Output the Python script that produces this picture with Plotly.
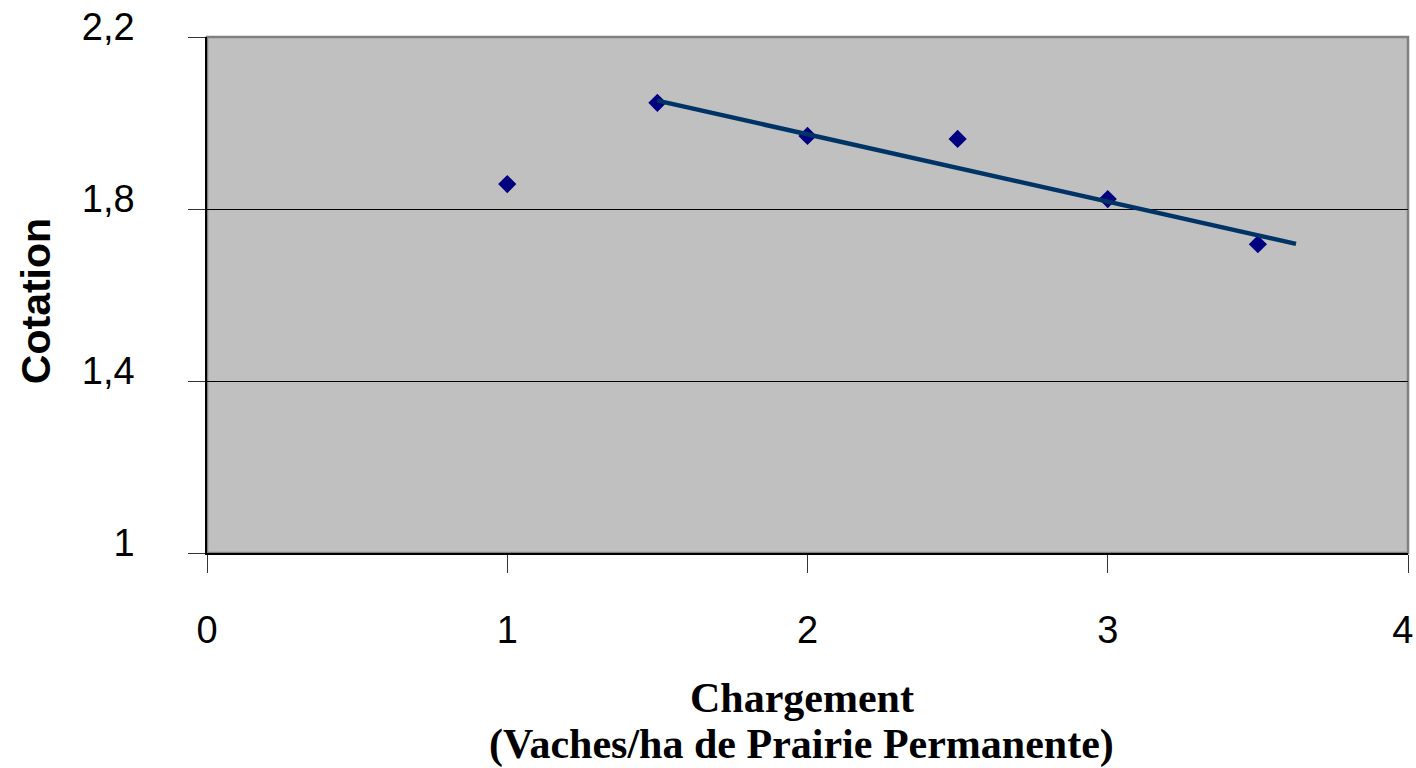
import plotly.graph_objects as go

# Data
chargement = [1.0, 1.5, 2.0, 2.5, 3.0, 3.5]
cotation = [1.858, 2.047, 1.970, 1.963, 1.823, 1.718]

# Linear trend line
trend_x = [1.5, 3.627]
trend_y = [2.052, 1.719]

x_ticks = [0, 1, 2, 3, 4]
x_tick_labels = ["0", "1", "2", "3", "4"]
y_ticks = [1.0, 1.4, 1.8, 2.2]
y_tick_labels = ["1", "1,4", "1,8", "2,2"]

# keep the last x label inside the page (as in the reference)
x_tick_text = x_tick_labels[:-1] + [x_tick_labels[-1] + "\u00a0"]

fig = go.Figure()
fig.add_trace(go.Scatter(
    x=chargement, y=cotation, mode="markers",
    marker=dict(symbol="diamond", size=14, color="#000080", line=dict(width=0)),
    showlegend=False, hoverinfo="x+y"))
fig.add_trace(go.Scatter(
    x=trend_x, y=trend_y, mode="lines",
    line=dict(color="#003366", width=4.5),
    showlegend=False, hoverinfo="skip"))

tick_font = dict(family="Liberation Sans, Arial, sans-serif", size=38, color="#000000")

fig.update_layout(
    width=1416, height=768,
    margin=dict(l=207, r=8, t=37, b=215, autoexpand=False),
    paper_bgcolor="#FFFFFF",
    plot_bgcolor="#C0C0C0",
    xaxis=dict(
        range=[0, 4], tickvals=x_ticks, ticktext=x_tick_text,
        showgrid=False, zeroline=False, automargin=False,
        showline=True, linecolor="#000000", linewidth=1.5,
        ticks="outside", ticklen=18, tickwidth=1, tickcolor="#333333",
        tickfont=tick_font, ticklabelstandoff=25, ticklabeloverflow="allow",
    ),
    yaxis=dict(
        range=[1.0, 2.2], tickvals=y_ticks, ticktext=y_tick_labels,
        showgrid=True, gridcolor="#000000", gridwidth=1,
        zeroline=False, automargin=False,
        showline=True, linecolor="#000000", linewidth=1.5,
        ticks="outside", ticklen=17, tickwidth=1, tickcolor="#333333",
        tickfont=tick_font, ticklabelstandoff=46, ticklabelshift=-10,
        ticklabeloverflow="allow",
    ),
    shapes=[dict(type="rect", xref="paper", yref="paper", x0=0, x1=1, y0=0, y1=1,
                 line=dict(color="#808080", width=2.5), fillcolor="rgba(0,0,0,0)",
                 layer="below")],
    annotations=[
        dict(text="Cotation", xref="paper", yref="paper", x=-0.1424, y=0.488,
             xanchor="center", yanchor="middle", textangle=-90, showarrow=False,
             font=dict(family="Liberation Sans, Arial, sans-serif", size=41,
                       color="#000000", weight="bold")),
        dict(text="Chargement", xref="paper", yref="paper", x=0.4954, y=-0.281,
             xanchor="center", yanchor="middle", showarrow=False,
             font=dict(family="Liberation Serif, Times New Roman, serif", size=42,
                       color="#000000", weight="bold")),
        dict(text="(Vaches/ha de Prairie Permanente)", xref="paper", yref="paper",
             x=0.4954, y=-0.372, xanchor="center", yanchor="middle", showarrow=False,
             font=dict(family="Liberation Serif, Times New Roman, serif", size=42,
                       color="#000000", weight="bold")),
    ],
)

fig.write_html("out.html", config={"displayModeBar": False},
               post_script="document.body.style.margin='0px';document.body.style.overflow='hidden';")
